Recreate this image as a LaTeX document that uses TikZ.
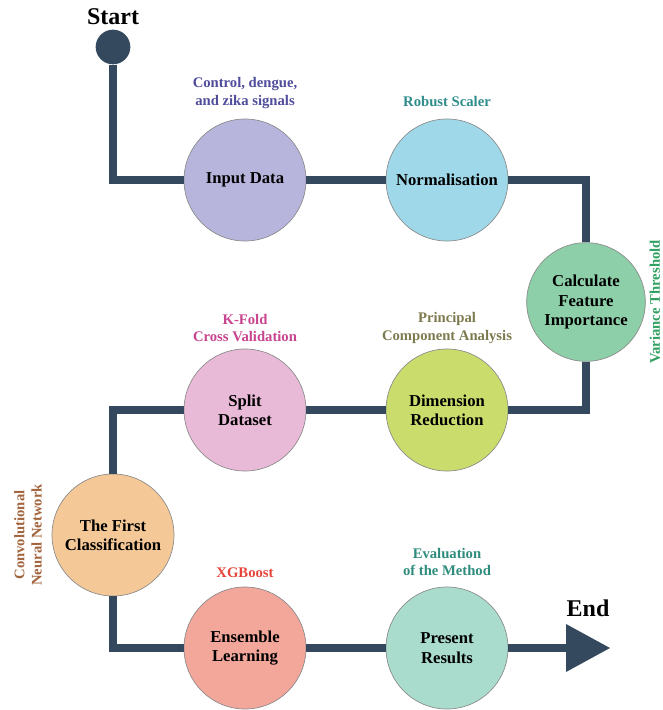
\documentclass[tikz,border=0pt]{standalone}
\usepackage{fontspec}
\setmainfont{Liberation Serif}
\usetikzlibrary{positioning}

\definecolor{pathcol}{HTML}{34495E}
\definecolor{rimcol}{HTML}{8A8A8A}
\definecolor{inputcol}{HTML}{B8B5DC}
\definecolor{normcol}{HTML}{9FD9E9}
\definecolor{calccol}{HTML}{8CCFA8}
\definecolor{dimcol}{HTML}{CADC6C}
\definecolor{splitcol}{HTML}{E9BAD8}
\definecolor{firstcol}{HTML}{F4C897}
\definecolor{enscol}{HTML}{F3A79B}
\definecolor{prescol}{HTML}{A9DCCD}
\definecolor{inputtxt}{HTML}{4F4C9C}
\definecolor{normtxt}{HTML}{2E8C8C}
\definecolor{calctxt}{HTML}{2FA060}
\definecolor{splittxt}{HTML}{C8448E}
\definecolor{dimtxt}{HTML}{7C7A4E}
\definecolor{firsttxt}{HTML}{A2643C}
\definecolor{enstxt}{HTML}{E5453B}
\definecolor{prestxt}{HTML}{2E8C7C}

\begin{document}
\begin{tikzpicture}[
        x=0.75pt, y=-0.75pt,
        every node/.style={font=\bfseries\fontsize{12.5}{14.5}\selectfont, align=center},
        stage/.style={circle, draw=rimcol, line width=0.5pt, minimum size=91.5pt, inner sep=0pt},
        note/.style={font=\bfseries\fontsize{11}{13}\selectfont},
        title/.style={font=\bfseries\fontsize{18}{20}\selectfont},
        route/.style={draw=pathcol, line width=5.5pt}
    ]
    \useasboundingbox (0,0) rectangle (663,710);

    % start and end marks
    \node[circle, fill=pathcol, minimum size=26pt, inner sep=0pt] (start) at (113,47) {};
    \node[title] (starttxt) at (113,17) {Start};
    \coordinate (endpt) at (566,648);
    \node[title] (endtxt) at (588,608) {End};

    % stages
    \node[stage, fill=inputcol] (input) at (245,180) {Input Data};
    \node[stage, fill=normcol] (norm) at (447,180) {Normalisation};
    \node[stage, fill=calccol, minimum size=89pt] (calc) at (586,302) {Calculate\\Feature\\Importance};
    \node[stage, fill=dimcol] (dimred) at (447,410) {Dimension\\Reduction};
    \node[stage, fill=splitcol] (split) at (245,410) {Split\\Dataset};
    \node[stage, fill=firstcol] (first) at (113,535) {The First\\Classification};
    \node[stage, fill=enscol] (ensemble) at (245,648) {Ensemble\\Learning};
    \node[stage, fill=prescol] (present) at (447,648) {Present\\Results};

    % methods
    \node[note, text=inputtxt] (inputnote) at (245,93) {Control, dengue,\\and zika signals};
    \node[note, text=normtxt] (normnote) at (447,102) {Robust Scaler};
    \node[note, text=calctxt, rotate=90] (calcnote) at (655,302) {Variance Threshold};
    \node[note, text=dimtxt] (dimnote) at (447,328) {Principal\\Component Analysis};
    \node[note, text=splittxt] (splitnote) at (245,328) {K-Fold\\Cross Validation};
    \node[note, text=firsttxt, rotate=90] (firstnote) at (28,535) {Convolutional\\Neural Network};
    \node[note, text=enstxt] (ensnote) at (245,573) {XGBoost};
    \node[note, text=prestxt] (presnote) at (447,562) {Evaluation\\of the Method};

    % the route
    \path[route] (start) |- (input);
    \path[route] (input) -- (norm);
    \path[route] (norm) -| (calc);
    \path[route] (calc) |- (dimred);
    \path[route] (dimred) -- (split);
    \path[route] (split) -| (first);
    \path[route] (first) |- (ensemble);
    \path[route] (ensemble) -- (present);
    \path[route] (present) -- (endpt);
    \fill[pathcol] (endpt) ++(0,-24) -- ++(44,24) -- ++(-44,24) -- cycle;
\end{tikzpicture}
\end{document}
